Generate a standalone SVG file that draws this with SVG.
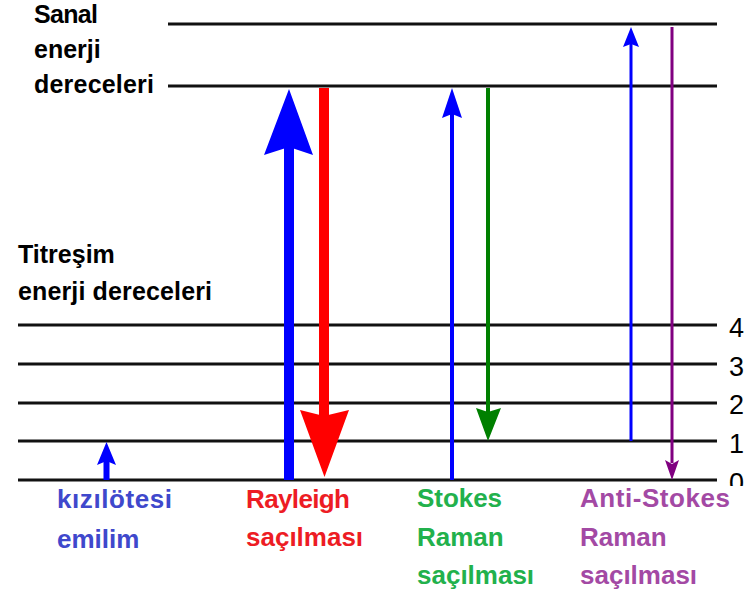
<svg xmlns="http://www.w3.org/2000/svg" width="745" height="599" viewBox="0 0 745 599">
  <style>
    .lvl { stroke: #111; stroke-width: 2.8; }
    .hdr { font-family: "Liberation Sans", Arial, sans-serif; font-weight: bold; font-size: 25px; fill: #000; }
    .num { font-family: "Liberation Sans", Arial, sans-serif; font-size: 27px; fill: #000; }
    .lbl { font-family: "Liberation Sans", Arial, sans-serif; font-weight: bold; font-size: 26px; }
  </style>
  <defs>
    <clipPath id="zeroClip">
      <rect x="700" y="440" width="45" height="46"/>
    </clipPath>
  </defs>
  <rect width="745" height="599" fill="#fff"/>

  <!-- virtual levels -->
  <g id="virtual-levels">
    <line class="lvl" x1="168" y1="24" x2="717" y2="24"/>
    <line class="lvl" x1="168" y1="86" x2="717" y2="86"/>
  </g>

  <!-- vibrational levels 4..0 -->
  <g id="vibrational-levels">
    <line class="lvl" x1="18" y1="325" x2="717" y2="325"/>
    <line class="lvl" x1="18" y1="364" x2="717" y2="364"/>
    <line class="lvl" x1="18" y1="403" x2="717" y2="403"/>
    <line class="lvl" x1="18" y1="441" x2="717" y2="441"/>
    <line class="lvl" x1="18" y1="480" x2="717" y2="480"/>
    <text class="num" x="729" y="337">4</text>
    <text class="num" x="729" y="376">3</text>
    <text class="num" x="729" y="414">2</text>
    <text class="num" x="729" y="453">1</text>
    <text class="num" x="729" y="492" clip-path="url(#zeroClip)">0</text>
  </g>

  <g id="headings">
    <text class="hdr" x="34" y="23" textLength="64">Sanal</text>
    <text class="hdr" x="34" y="58">enerji</text>
    <text class="hdr" x="34" y="93" textLength="120">dereceleri</text>
    <text class="hdr" x="18" y="263">Titreşim</text>
    <text class="hdr" x="18" y="300" textLength="194">enerji dereceleri</text>
  </g>

  <!-- transitions -->
  <g id="connectors">
    <!-- infrared absorption -->
    <g id="ir-absorption" fill="#0000ff">
      <rect x="103.5" y="460" width="6" height="20"/>
      <path d="M106.5 442 L116 465 L106.5 461 L97 465 Z"/>
    </g>
    <!-- Rayleigh -->
    <g id="rayleigh-up" fill="#0000ff">
      <rect x="284" y="145" width="10" height="335"/>
      <path d="M289 89 L313 155 L289 147 L264 155 Z"/>
    </g>
    <g id="rayleigh-down" fill="#ff0000">
      <rect x="319" y="88" width="10" height="330"/>
      <path d="M300 410 L324 416 L349 410 L324.5 477 Z"/>
    </g>
    <!-- Stokes Raman -->
    <g id="stokes-up" fill="#0000ff">
      <rect x="450" y="112" width="4" height="368"/>
      <path d="M452 88 L462 118 L452 114 L442 118 Z"/>
    </g>
    <g id="stokes-down" fill="#008000">
      <rect x="486" y="88" width="4" height="326"/>
      <path d="M476 408 L488 412 L501 408 L488 441 Z"/>
    </g>
    <!-- anti-Stokes Raman -->
    <g id="antistokes-up" fill="#0000ff">
      <rect x="629.5" y="43" width="3" height="398"/>
      <path d="M631 27 L639 47 L631 44 L623 47 Z"/>
    </g>
    <g id="antistokes-down" fill="#800080">
      <rect x="670.5" y="27" width="3" height="436"/>
      <path d="M665 460 L672 464 L679 460 L672 480 Z"/>
    </g>
  </g>

  <g id="captions">
    <text class="lbl" x="57" y="508" fill="#3f48cc" textLength="115">kızılötesi</text>
    <text class="lbl" x="57" y="548" fill="#3f48cc">emilim</text>
    <text class="lbl" x="246" y="508" fill="#ed1c24" textLength="104">Rayleigh</text>
    <text class="lbl" x="246" y="546" fill="#ed1c24">saçılması</text>
    <text class="lbl" x="417" y="507" fill="#22b14c" textLength="85">Stokes</text>
    <text class="lbl" x="417" y="546" fill="#22b14c">Raman</text>
    <text class="lbl" x="417" y="584" fill="#22b14c">saçılması</text>
    <text class="lbl" x="580" y="507" fill="#a349a4" textLength="150">Anti-Stokes</text>
    <text class="lbl" x="580" y="546" fill="#a349a4">Raman</text>
    <text class="lbl" x="580" y="584" fill="#a349a4">saçılması</text>
  </g>
</svg>
